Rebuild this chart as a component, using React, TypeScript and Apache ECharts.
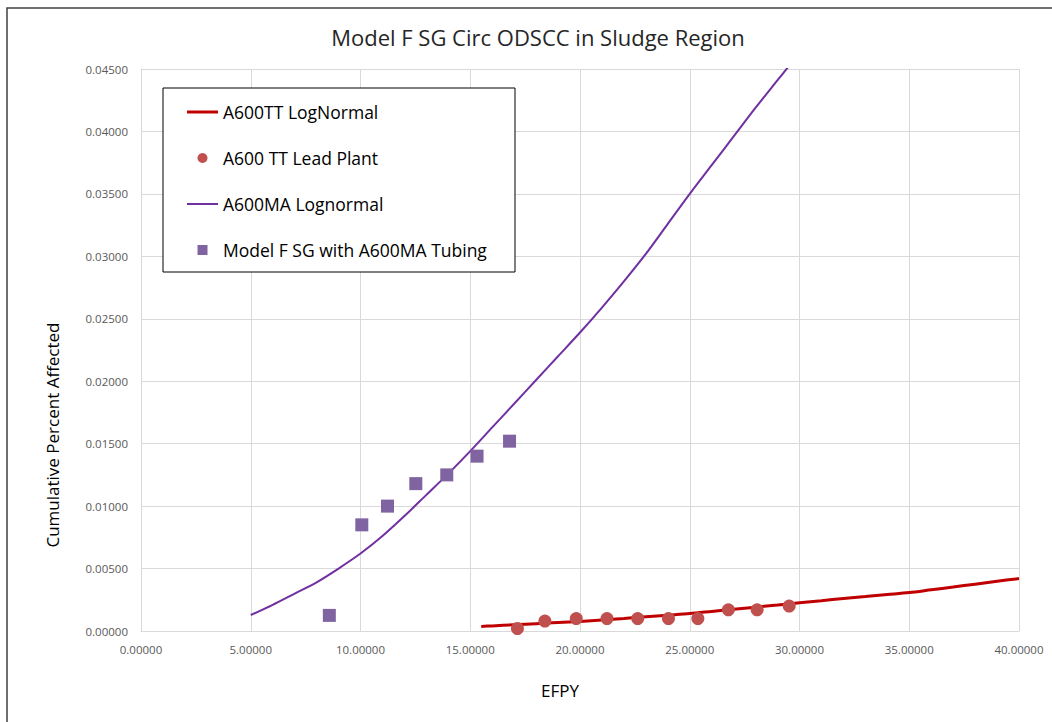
import React, { useEffect, useRef } from "react";
import * as echarts from "echarts";

// Red lognormal fit (A600TT)
const redLineX = [15.5, 16, 17, 18, 19, 20, 21, 22, 23, 24, 25, 26, 27, 28, 29, 30, 31, 32, 33, 34, 35, 36, 37, 38, 39, 40];
const redLineY = [0.00037, 0.00041, 0.0005, 0.00059, 0.00068, 0.00077, 0.00089, 0.00101, 0.00114, 0.00127, 0.0014, 0.00157, 0.00174, 0.00191, 0.00208, 0.00226, 0.00243, 0.0026, 0.00276, 0.00292, 0.00308, 0.0033, 0.00352, 0.00375, 0.00398, 0.0042];

// Red lead plant points
const redDotX = [17.15, 18.4, 19.83, 21.23, 22.63, 24.03, 25.37, 26.76, 28.07, 29.53];
const redDotY = [0.0002, 0.0008, 0.001, 0.001, 0.001, 0.001, 0.001, 0.0017, 0.0017, 0.002];

// Purple lognormal fit (A600MA)
const purpleLineX = [5, 6, 7, 8, 9, 10, 11, 12, 13, 14, 15, 16, 17, 18, 19, 20, 21, 22, 23, 24, 25, 26, 27, 28, 29, 29.5];
const purpleLineY = [0.00128, 0.0021, 0.003, 0.0039, 0.005, 0.0062, 0.0076, 0.0092, 0.0109, 0.0126, 0.0144, 0.0163, 0.0182, 0.0201, 0.022, 0.0239, 0.0259, 0.028, 0.0302, 0.0326, 0.035, 0.0373, 0.0396, 0.0419, 0.0441, 0.0452];

// Purple Model F SG points
const squareX = [8.58, 10.06, 11.23, 12.52, 13.93, 15.31, 16.79];
const squareY = [0.00125, 0.0085, 0.01, 0.0118, 0.0125, 0.014, 0.0152];

const seriesNames = ["A600TT LogNormal", "A600 TT Lead Plant", "A600MA Lognormal", "Model F SG with A600MA Tubing"];

const zip = (xs: number[], ys: number[]) => xs.map((x, i) => [x, ys[i]]);

const FONT = "'Open Sans', 'Noto Sans', sans-serif";

export default function App() {
  const ref = useRef<HTMLDivElement>(null);
  useEffect(() => {
    if (!ref.current) return;
    const chart = echarts.init(ref.current, undefined, { renderer: "svg" });
    chart.setOption({
      animation: false,
      backgroundColor: "#ffffff",
      title: {
        text: "Model F SG Circ ODSCC in Sludge Region",
        left: 533,
        textAlign: "center",
        top: 21,
        textStyle: { fontFamily: FONT, fontSize: 22, fontWeight: "normal", color: "#262626" },
      },
      grid: { left: 141, right: 33, top: 69, bottom: 91, containLabel: false },
      xAxis: {
        type: "value",
        min: 0,
        max: 40,
        interval: 5,
        axisLine: { show: true, lineStyle: { color: "#d9d9d9", width: 1 } },
        axisTick: { show: false },
        splitLine: { show: true, lineStyle: { color: "#d9d9d9", width: 1 } },
        axisLabel: {
          margin: 12,
          color: "#595959",
          fontFamily: FONT,
          fontSize: 11.5,
          formatter: (v: number) => v.toFixed(5),
        },
      },
      yAxis: {
        type: "value",
        min: 0,
        max: 0.045,
        interval: 0.005,
        axisLine: { show: true, lineStyle: { color: "#d9d9d9", width: 1 } },
        axisTick: { show: false },
        splitLine: { show: true, lineStyle: { color: "#d9d9d9", width: 1 } },
        axisLabel: {
          margin: 13,
          color: "#595959",
          fontFamily: FONT,
          fontSize: 11.5,
          formatter: (v: number) => v.toFixed(5),
        },
      },
      legend: {
        orient: "vertical",
        left: 187,
        top: 102,
        padding: 0,
        itemWidth: 31,
        itemHeight: 10,
        itemGap: 26,
        itemTextGap: 4,
        data: [
          { name: seriesNames[0], icon: "path://M0,0 L31,0 L31,3 L0,3 Z" },
          { name: seriesNames[1], icon: "circle" },
          { name: seriesNames[2], icon: "path://M0,0 L31,0 L31,2 L0,2 Z" },
          { name: seriesNames[3], icon: "path://M0,0 L10,0 L10,10 L0,10 Z" },
        ],
        textStyle: { fontFamily: FONT, fontSize: 17.5, color: "#000000", lineHeight: 20 },
        z: 10,
      },
      graphic: [
        {
          type: "rect",
          z: 9,
          shape: { x: 163, y: 88, width: 352, height: 184 },
          style: { fill: "#ffffff", stroke: "#000000", lineWidth: 1 },
        },
        {
          type: "polyline",
          z: 9,
          shape: { points: [[7, 722], [7, 8], [1052, 8]] },
          style: { fill: "none", stroke: "#404040", lineWidth: 1.5 },
        },
        {
          type: "text",
          x: 52,
          y: 435,
          rotation: Math.PI / 2,
          style: {
            text: "Cumulative Percent Affected",
            fontFamily: FONT,
            fontSize: 17,
            fill: "#000000",
            align: "center",
            verticalAlign: "middle",
          },
        },
        {
          type: "text",
          x: 560,
          y: 690,
          style: {
            text: "EFPY",
            fontFamily: FONT,
            fontSize: 17,
            fill: "#000000",
            align: "center",
            verticalAlign: "middle",
          },
        },
      ],
      series: [
        {
          name: seriesNames[0],
          type: "line",
          data: zip(redLineX, redLineY),
          symbol: "none",
          smooth: 0.3,
          lineStyle: { color: "#C00000", width: 3 },
          itemStyle: { color: "#C00000" },
          z: 2,
        },
        {
          name: seriesNames[1],
          type: "scatter",
          data: zip(redDotX, redDotY),
          symbol: "circle",
          symbolSize: 13,
          itemStyle: { color: "#C0504D", opacity: 1 },
          z: 3,
        },
        {
          name: seriesNames[2],
          type: "line",
          data: zip(purpleLineX, purpleLineY),
          symbol: "none",
          smooth: 0.3,
          clip: true,
          lineStyle: { color: "#7030A0", width: 2 },
          itemStyle: { color: "#7030A0" },
          z: 2,
        },
        {
          name: seriesNames[3],
          type: "scatter",
          data: zip(squareX, squareY),
          symbol: "rect",
          symbolSize: 13,
          itemStyle: { color: "#8064A2", opacity: 1 },
          z: 3,
        },
      ],
    });
    return () => chart.dispose();
  }, []);
  return (
    <div
      ref={ref}
      style={{ position: "fixed", left: 0, top: 0, width: 1052, height: 722, background: "#fff" }}
    />
  );
}
